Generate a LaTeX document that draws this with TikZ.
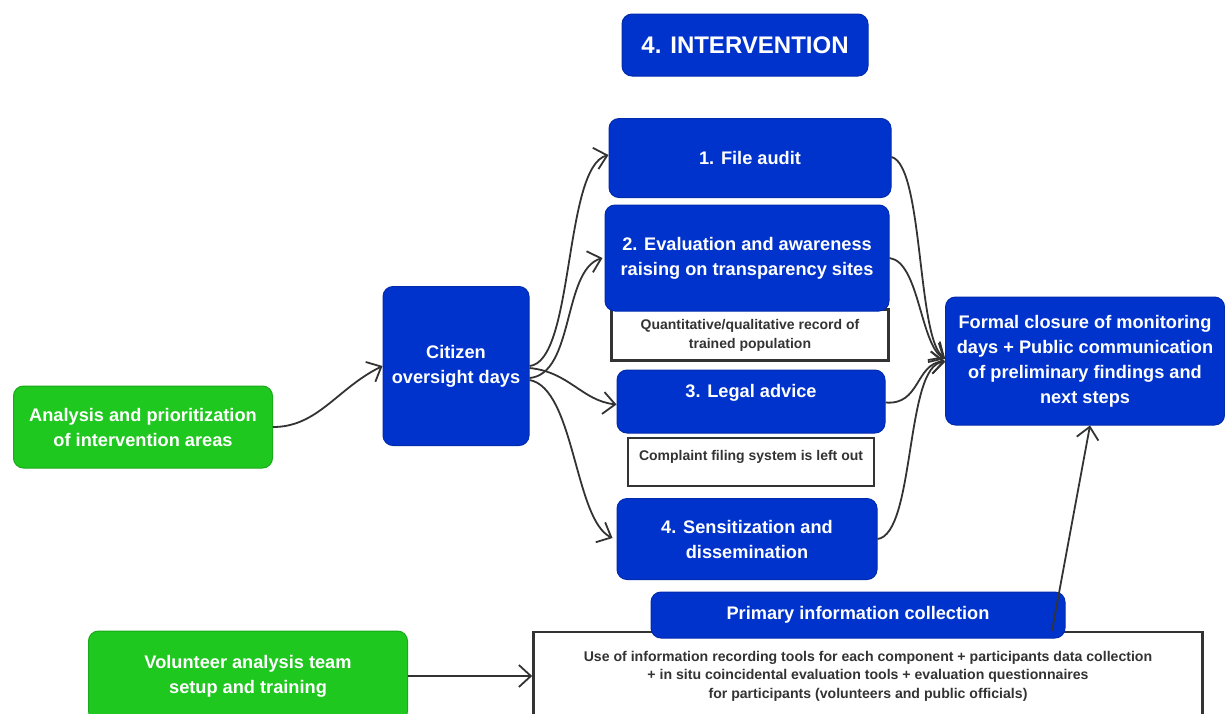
\documentclass[tikz,border=0pt]{standalone}
\usepackage{fontspec}
\setmainfont{Liberation Sans}
\usetikzlibrary{arrows.meta,positioning}
\definecolor{stepblue}{HTML}{0033CC}
\definecolor{teamgreen}{HTML}{1EC81E}
\definecolor{ink}{HTML}{333333}
\tikzset{
  flow/.style={-{Straight Barb[length=12pt,width=22pt]},draw=ink,line width=1.8pt},
  box/.style={rounded corners=10pt,align=center,inner sep=3pt,text=white,
    font=\bfseries\fontsize{18.2}{25}\selectfont},
  bluebox/.style={box,fill=stepblue,draw=stepblue!85!black,line width=1pt},
  greenbox/.style={box,fill=teamgreen,draw=teamgreen!85!black,line width=1pt},
  notebox/.style={draw=ink,line width=2.6pt,fill=white,align=center,inner sep=0pt,
    text=ink,font=\bfseries\fontsize{14}{19}\selectfont},
}

\begin{document}
\begin{tikzpicture}[x=1pt,y=-1pt]
\useasboundingbox (0,0) rectangle (1225,713);
\clip (0,0) rectangle (1225,713);
% white notes sit behind the blue boxes
\node[notebox,minimum width=277pt,minimum height=51pt] (record) at (750,335) {Quantitative/qualitative record of\\trained population};
\node[notebox,minimum width=246pt,text height=22pt,text depth=26pt,anchor=base] (complaint) at (751,460) {Complaint filing system is left out};
\node[notebox,minimum width=669pt,minimum height=88pt,font=\bfseries\fontsize{14.1}{18.5}\selectfont] (collection) at (868,676) {Use of information recording tools for each component + participants data collection\\+ in situ coincidental evaluation tools + evaluation questionnaires\\for participants (volunteers and public officials)};
% main boxes
\node[bluebox,minimum width=246pt,minimum height=62pt,font=\bfseries\fontsize{24}{28}\selectfont] (title) at (745,45) {4. INTERVENTION};
\node[greenbox,minimum width=259pt,minimum height=82pt] (analysis) at (143,427) {Analysis and prioritization\\of intervention areas};
\node[bluebox,minimum width=146pt,minimum height=159pt] (citizen) at (456,366) {Citizen\\oversight days};
\node[bluebox,minimum width=282pt,minimum height=79pt] (audit) at (750,158) {1. File audit};
\node[bluebox,minimum width=284pt,minimum height=106pt] (evaluation) at (747,258) {2. Evaluation and awareness\\raising on transparency sites};
\node[bluebox,minimum width=268pt,inner sep=0pt,text height=27pt,text depth=36pt,anchor=base] (legal) at (751,397) {3. Legal advice};
\node[bluebox,minimum width=260pt,minimum height=81pt] (sensitization) at (747,539) {4. Sensitization and\\dissemination};
\node[bluebox,minimum width=279pt,minimum height=128pt] (closure) at (1085,361) {Formal closure of monitoring\\days + Public communication\\of preliminary findings and\\next steps};
\node[bluebox,minimum width=414pt,minimum height=46pt] (primary) at (858,615) {Primary information collection};
\node[greenbox,minimum width=319pt,minimum height=90pt] (volunteer) at (248,676) {Volunteer analysis team\\setup and training};
% connectors
\draw[flow] (analysis.east) .. controls +(45,0) and +(-45,22) .. (citizen.west);
\draw[flow] (citizen.east) .. controls +(45,-4) and +(-45,12) .. ([yshift=3pt]audit.west);
\draw[flow] ([yshift=-12pt]citizen.east) .. controls +(45,-4) and +(-40,12) .. ([xshift=-2pt]evaluation.west);
\draw[flow] ([yshift=-2pt]citizen.east) .. controls +(40,4) and +(-35,-4) .. ([yshift=-3pt]legal.west);
\draw[flow] ([yshift=-14pt]citizen.east) .. controls +(45,8) and +(-38,-18) .. ([xshift=-4pt,yshift=1pt]sensitization.west);
\draw[flow] ([yshift=1pt]audit.east) .. controls +(32,8) and +(-28,-18) .. ([yshift=3pt]closure.west);
\draw[flow] (evaluation.east) .. controls +(30,4) and +(-25,-14) .. ([yshift=2pt]closure.west);
\draw[flow] ([yshift=-1pt]legal.east) .. controls +(35,3) and +(-30,3) .. (closure.west);
\draw[flow] (sensitization.east) .. controls +(38,-5) and +(-40,2) .. ([yshift=-1pt]closure.west);
\draw[flow] ([xshift=184pt]collection.north) -- ([xshift=5pt]closure.south);
\draw[flow] (volunteer.east) -- (collection.west);
\end{tikzpicture}
\end{document}
